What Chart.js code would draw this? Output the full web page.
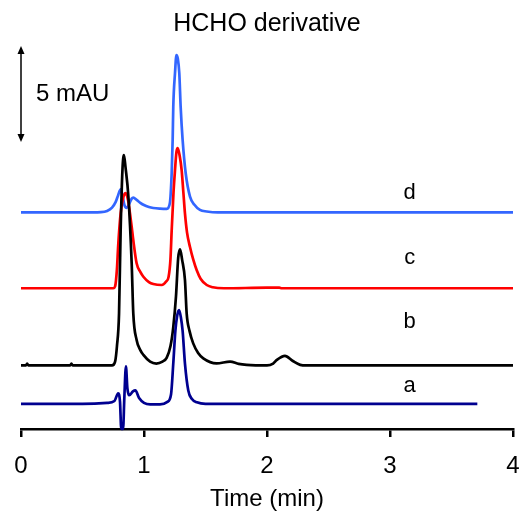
<!DOCTYPE html>
<html>
<head>
<meta charset="utf-8">
<script src="https://cdn.jsdelivr.net/npm/chart.js@4.4.1/dist/chart.umd.min.js"></script>
<style>
  body { margin: 0; background: #fff; }
</style>
</head>
<body>
<canvas id="chart" width="524" height="514"></canvas>
<script>
// trace a (navy)
const aTime   = [0, 0.5, 0.70, 0.76, 0.79, 0.805, 0.815, 0.83, 0.84, 0.853, 0.865, 0.88, 0.91, 0.93, 0.96, 1.0, 1.05, 1.13, 1.19, 1.22, 1.238, 1.255, 1.27, 1.285, 1.30, 1.314, 1.333, 1.36, 1.39, 1.43, 1.5, 2.5, 3.71];
const aSignal = [0, 0, 0.05, 0.15, 0.55, 0.1, -1.3, -1.3, 0.3, 1.95, 0.8, 0.45, 0.65, 0.7, 0.3, 0.05, -0.03, -0.03, 0.1, 0.5, 2.1, 3.8, 4.6, 4.88, 4.5, 3.8, 2.1, 0.7, 0.25, 0.08, 0, 0, 0];

// trace b (black)
const bTime   = [0, 0.04, 0.05, 0.06, 0.40, 0.41, 0.42, 0.74, 0.765, 0.78, 0.797, 0.81, 0.825, 0.837, 0.85, 0.873, 0.9, 0.913, 0.94, 0.97, 0.995, 1.05, 1.1, 1.15, 1.184, 1.215, 1.238, 1.26, 1.278, 1.293, 1.31, 1.333, 1.347, 1.37, 1.4, 1.44, 1.482, 1.59, 1.7, 1.77, 1.835, 2.0, 2.05, 2.08, 2.146, 2.21, 2.27, 2.32, 4];
const bSignal = [0, 0, 0.1, 0, 0, 0.1, 0, 0, 0.2, 1.0, 2.7, 7.0, 10.2, 10.95, 10.3, 8.8, 5.3, 2.7, 1.33, 0.8, 0.55, 0.2, 0.1, 0.2, 0.4, 1.0, 2.0, 3.6, 5.6, 6.05, 5.5, 4.45, 2.7, 1.8, 1.15, 0.65, 0.37, 0.11, 0.2, 0.08, 0.03, 0, 0.1, 0.29, 0.5, 0.23, 0.03, 0, 0];

// trace c (red)
const cTime   = [0, 0.5, 0.75, 0.765, 0.78, 0.79, 0.81, 0.83, 0.851, 0.87, 0.886, 0.9, 0.913, 0.94, 0.97, 0.995, 1.04, 1.076, 1.144, 1.18, 1.2, 1.215, 1.225, 1.24, 1.252, 1.264, 1.274, 1.29, 1.306, 1.32, 1.333, 1.35, 1.374, 1.4, 1.428, 1.46, 1.51, 1.56, 1.65, 2.0, 2.1, 2.12, 4];
const cSignal = [0, 0, 0, 0.1, 1.0, 2.2, 3.9, 4.7, 4.95, 4.6, 3.9, 3.2, 2.5, 1.3, 0.85, 0.6, 0.32, 0.22, 0.17, 0.35, 0.6, 1.5, 3.0, 5.0, 6.15, 7.1, 7.3, 6.9, 6.15, 5.0, 3.9, 2.9, 2.15, 1.5, 0.95, 0.5, 0.17, 0.05, 0, 0.03, 0.03, 0, 0];

// trace d (blue)
const dTime   = [0, 0.5, 0.65, 0.70, 0.74, 0.77, 0.79, 0.81, 0.825, 0.84, 0.86, 0.88, 0.9, 0.913, 0.94, 0.97, 0.995, 1.04, 1.076, 1.13, 1.185, 1.21, 1.225, 1.233, 1.238, 1.252, 1.264, 1.275, 1.287, 1.298, 1.314, 1.339, 1.374, 1.41, 1.455, 1.51, 1.6, 4];
const dSignal = [0, 0, 0.02, 0.08, 0.25, 0.55, 0.9, 1.2, 0.9, 0.4, 0.24, 0.45, 0.72, 0.77, 0.65, 0.5, 0.4, 0.28, 0.23, 0.2, 0.19, 0.48, 2.04, 3.78, 5.5, 7.25, 8.2, 8.0, 7.25, 5.5, 3.78, 2.04, 0.82, 0.4, 0.13, 0.05, 0, 0];

const traceNames   = ["a", "b", "c", "d"];
const traceOffsets = [1.31, 3.31, 7.33, 11.28]; // stacking offset, mAU
const traceColors  = ["#000090", "#000000", "#ff0000", "#3366ff"];
const xTicks = [0, 1, 2, 3, 4];

const times   = [aTime, bTime, cTime, dTime];
const signals = [aSignal, bSignal, cSignal, dSignal];

const FONT = "'Liberation Sans', Arial, sans-serif";

// scale bar and trace letters
const labelTime = 3.16;
const labelBase = [1.91, 5.24, 8.58, 11.96];
const barTime = 0, barTop = 19.95, barSize = 5;

const annotations = {
  id: "annotations",
  afterDatasetsDraw(chart) {
    const { ctx, scales: { x, y } } = chart;
    ctx.save();
    ctx.fillStyle = "#000";
    ctx.strokeStyle = "#000";

    // 5 mAU scale bar
    const bx = x.getPixelForValue(barTime);
    const t = y.getPixelForValue(barTop);
    const b = y.getPixelForValue(barTop - barSize);
    ctx.lineWidth = 1.5;
    ctx.beginPath();
    ctx.moveTo(bx, t + 4);
    ctx.lineTo(bx, b - 4);
    ctx.stroke();
    ctx.beginPath();
    ctx.moveTo(bx, t); ctx.lineTo(bx - 3.5, t + 8); ctx.lineTo(bx + 3.5, t + 8); ctx.closePath();
    ctx.moveTo(bx, b); ctx.lineTo(bx - 3.5, b - 8); ctx.lineTo(bx + 3.5, b - 8); ctx.closePath();
    ctx.fill();

    ctx.font = "24px " + FONT;
    ctx.textAlign = "left";
    ctx.textBaseline = "middle";
    ctx.fillText("5 mAU", bx + 15, (t + b) / 2);

    // trace letters
    ctx.font = "22px " + FONT;
    ctx.textAlign = "center";
    ctx.textBaseline = "alphabetic";
    traceNames.forEach((n, i) => {
      ctx.fillText(n, x.getPixelForValue(labelTime), y.getPixelForValue(labelBase[i]));
    });
    ctx.restore();
  }
};

const datasets = traceNames.map((n, i) => ({
  label: n,
  data: times[i].map((t, k) => ({ x: t, y: signals[i][k] + traceOffsets[i] })),
  borderColor: traceColors[i],
  borderWidth: 2.7,
  pointRadius: 0,
  cubicInterpolationMode: "monotone",
  fill: false,
  clip: false
}));

new Chart(document.getElementById("chart"), {
  type: "line",
  data: { datasets: datasets },
  options: {
    responsive: false,
    animation: false,
    layout: { padding: { left: 21, right: 11, top: 0, bottom: 0 } },
    plugins: {
      legend: { display: false },
      tooltip: { enabled: false },
      title: {
        display: true,
        text: "HCHO derivative",
        color: "#000",
        font: { family: FONT, size: 25, weight: "normal" },
        padding: { top: 9, bottom: 6 }
      }
    },
    scales: {
      x: {
        type: "linear",
        min: 0,
        max: 4,
        afterBuildTicks: (axis) => { axis.ticks = xTicks.map(v => ({ value: v })); },
        afterFit: (axis) => {
          axis.height = 85;
          axis.paddingLeft = 0;
          axis.paddingRight = 0;
        },
        ticks: { color: "#000", font: { family: FONT, size: 24 }, padding: 15, maxRotation: 0 },
        grid: { drawOnChartArea: false, drawTicks: true, tickLength: 8, color: "#000", lineWidth: 2.5 },
        border: { display: true, color: "#000", width: 2.5 },
        title: {
          display: true,
          text: "Time (min)",
          color: "#000",
          font: { family: FONT, size: 24 },
          padding: { top: 2, bottom: 0 }
        }
      },
      y: {
        display: false,
        min: 0,
        max: 20
      }
    }
  },
  plugins: [annotations]
});
</script>
</body>
</html>
